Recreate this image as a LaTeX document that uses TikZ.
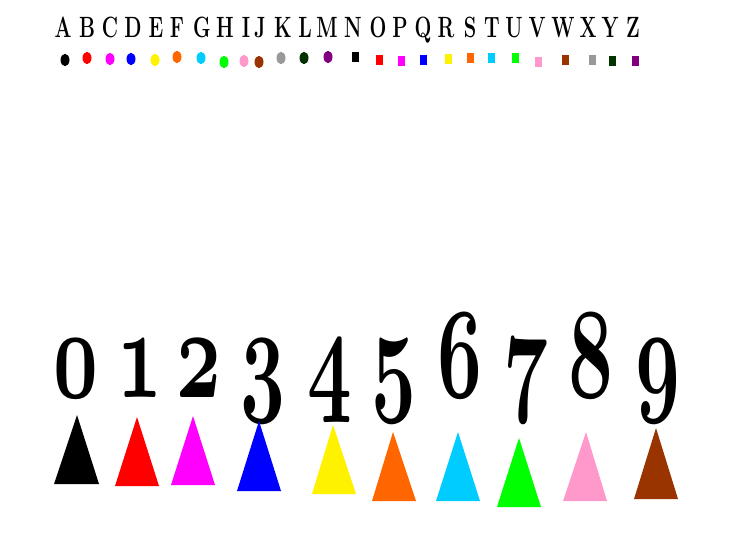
\documentclass[tikz,border=0pt]{standalone}
\usepackage{tikz}

\definecolor{tMagenta}{RGB}{255,0,255}
\definecolor{tOrange}{RGB}{255,102,0}
\definecolor{tSky}{RGB}{0,204,255}
\definecolor{tGreen}{RGB}{0,255,0}
\definecolor{tPink}{RGB}{255,153,204}
\definecolor{tBrown}{RGB}{153,51,0}
\definecolor{tGray}{RGB}{153,153,153}
\definecolor{tDkGreen}{RGB}{0,51,0}
\definecolor{tPurple}{RGB}{128,0,128}

\tikzset{every picture/.style={line width=0.75pt}}
\tikzset{
  letter/.style={anchor=base, inner sep=0pt, xscale=0.68, font=\fontsize{22}{22}\selectfont\bfseries},
  digit/.style={anchor=base, inner sep=0pt, xscale=2.35, yscale=3.9, font=\fontsize{24.88}{25}\usefont{OML}{cmm}{b}{it}},
  dot/.style={draw=none, fill=#1},
  tri/.style={draw=none, fill=#1}
}

\begin{document}
\begin{tikzpicture}[x=0.75pt,y=0.75pt,yscale=-1,xscale=1]
\useasboundingbox (0,0) rectangle (730,548);

%letters
\draw (63,38) node [letter] (lA) {A};
\draw (87,38) node [letter] (lB) {B};
\draw (110,38) node [letter] (lC) {C};
\draw (133,38) node [letter] (lD) {D};
\draw (156,38) node [letter] (lE) {E};
\draw (177,38) node [letter] (lF) {F};
\draw (202,38) node [letter] (lG) {G};
\draw (225,38) node [letter] (lH) {H};
\draw (246,38) node [letter] (lI) {I};
\draw (260,38) node [letter] (lJ) {J};
\draw (283,38) node [letter] (lK) {K};
\draw (305,38) node [letter] (lL) {L};
\draw (327,38) node [letter] (lM) {M};
\draw (353,38) node [letter] (lN) {N};
\draw (378,38) node [letter] (lO) {O};
\draw (400,38) node [letter] (lP) {P};
\draw (423,38) node [letter] (lQ) {Q};
\draw (446,38) node [letter] (lR) {R};
\draw (470,38) node [letter] (lS) {S};
\draw (492,38) node [letter] (lT) {T};
\draw (514,38) node [letter] (lU) {U};
\draw (537,38) node [letter] (lV) {V};
\draw (563,38) node [letter] (lW) {W};
\draw (588,38) node [letter] (lX) {X};
\draw (610,38) node [letter] (lY) {Y};
\draw (633,38) node [letter] (lZ) {Z};

%dots A-M
\draw [dot=black] (65,60) ellipse (4.5 and 6.2);
\draw [dot=red] (87,58) ellipse (4.5 and 6.2);
\draw [dot=tMagenta] (110,59) ellipse (4.5 and 6.2);
\draw [dot=blue] (131,59) ellipse (4.5 and 6.2);
\draw [dot=yellow] (155,60) ellipse (4.5 and 6.2);
\draw [dot=tOrange] (177,57) ellipse (4.5 and 6.2);
\draw [dot=tSky] (201,58) ellipse (4.5 and 6.2);
\draw [dot=tGreen] (224,62) ellipse (4.5 and 6.2);
\draw [dot=tPink] (244,61) ellipse (4.5 and 6.2);
\draw [dot=tBrown] (259,62) ellipse (4.5 and 6.2);
\draw [dot=tGray] (281,58) ellipse (4.5 and 6.2);
\draw [dot=tDkGreen] (304,58) ellipse (4.5 and 6.2);
\draw [dot=tPurple] (328,57) ellipse (4.5 and 6.2);

%squares N-Z
\draw [dot=black] (351.5,52.5) rectangle ++(7,10);
\draw [dot=red] (375.5,55) rectangle ++(7,10);
\draw [dot=tMagenta] (397.5,56) rectangle ++(7,10);
\draw [dot=blue] (419.5,55) rectangle ++(7,10);
\draw [dot=yellow] (444.5,54) rectangle ++(7,10);
\draw [dot=tOrange] (466.5,53) rectangle ++(7,10);
\draw [dot=tSky] (487.5,53) rectangle ++(7,10);
\draw [dot=tGreen] (511.5,53) rectangle ++(7,10);
\draw [dot=tPink] (534.5,57) rectangle ++(7,10);
\draw [dot=tBrown] (561.5,55) rectangle ++(7,10);
\draw [dot=tGray] (588.5,55) rectangle ++(7,10);
\draw [dot=tDkGreen] (608.5,56) rectangle ++(7,10);
\draw [dot=tPurple] (631.5,56) rectangle ++(7,10);

%digits
\draw (76,397) node [digit] (d0) {0};
\draw (140,397) node [digit] (d1) {1};
\draw (198.5,397) node [digit] (d2) {2};
\draw (262.5,397) node [digit] (d3) {3};
\draw (330,397) node [digit] (d4) {4};
\draw (394,397) node [digit] (d5) {5};
\draw (460,397) node [digit] (d6) {6};
\draw (526,397) node [digit] (d7) {7};
\draw (591,397) node [digit] (d8) {8};
\draw (658,397) node [digit] (d9) {9};

%triangles
\draw [tri=black] (54,484) -- (77,415) -- (99,484) -- cycle;
\draw [tri=red] (115,486) -- (137,417) -- (159,486) -- cycle;
\draw [tri=tMagenta] (171,485) -- (193,416) -- (215,485) -- cycle;
\draw [tri=blue] (237,491) -- (259,421) -- (281,491) -- cycle;
\draw [tri=yellow] (312,494) -- (333,425) -- (356,494) -- cycle;
\draw [tri=tOrange] (372,501) -- (393,432) -- (416,501) -- cycle;
\draw [tri=tSky] (436,501) -- (458,432) -- (480,501) -- cycle;
\draw [tri=tGreen] (497,507) -- (519,438) -- (541,507) -- cycle;
\draw [tri=tPink] (563,501) -- (586,432) -- (607,501) -- cycle;
\draw [tri=tBrown] (634,499) -- (656,428) -- (678,499) -- cycle;

\end{tikzpicture}
\end{document}
